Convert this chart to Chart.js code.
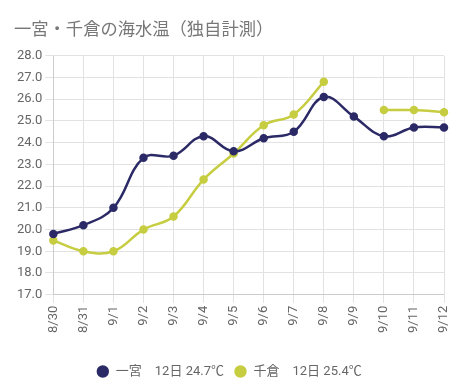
<!DOCTYPE html>
<html>
<head>
<meta charset="utf-8">
<script src="https://cdn.jsdelivr.net/npm/chart.js@4"></script>
<style>
  html, body { margin: 0; padding: 0; background: #fff; }
  #wrap { width: 471px; height: 390px; position: relative; }
</style>
</head>
<body>
<div id="wrap"><canvas id="seaChart"></canvas></div>
<script>
const days = ['8/30', '8/31', '9/1', '9/2', '9/3', '9/4', '9/5', '9/6', '9/7', '9/8', '9/9', '9/10', '9/11', '9/12'];
const ichinomiya = [19.8, 20.2, 21.0, 23.3, 23.4, 24.3, 23.6, 24.2, 24.5, 26.1, 25.2, 24.3, 24.7, 24.7];
const chikura = [19.5, 19.0, 19.0, 20.0, 20.6, 22.3, 23.5, 24.8, 25.3, 26.8, null, 25.5, 25.5, 25.4];
const seriesNames = ['一宮　12日 24.7℃', '千倉　12日 25.4℃'];

const fontFamily = "Roboto, 'Noto Sans CJK JP', sans-serif";

new Chart(document.getElementById('seaChart'), {
    type: 'line',
    data: {
        labels: days,
        datasets: [{
            label: seriesNames[0],
            data: ichinomiya,
            borderColor: '#2b2a66',
            backgroundColor: '#2b2a66',
            borderWidth: 2.5,
            pointRadius: 3,
            tension: 0.4,
            fill: false
        }, {
            label: seriesNames[1],
            data: chikura,
            borderColor: '#c6cd40',
            backgroundColor: '#c6cd40',
            borderWidth: 2.5,
            pointRadius: 3,
            tension: 0.4,
            fill: false
        }]
    },
    options: {
        responsive: true,
        maintainAspectRatio: false,
        animation: false,
        layout: { padding: { left: 14, right: 27, top: 14, bottom: 2 } },
        plugins: {
            title: {
                display: true,
                text: '一宮・千倉の海水温（独自計測）',
                align: 'start',
                color: '#777',
                font: { family: fontFamily, size: 17.3, weight: 'normal' },
                padding: { top: 6, bottom: 15 }
            },
            legend: {
                position: 'bottom',
                labels: {
                    usePointStyle: true,
                    pointStyle: 'circle',
                    boxWidth: 13,
                    boxHeight: 7,
                    color: '#666',
                    font: { family: fontFamily, size: 13 },
                    padding: 10
                }
            }
        },
        scales: {
            x: {
                grid: { color: '#e2e2e2' },
                afterFit: scale => { scale.height += 19; },
                ticks: {
                    color: '#666',
                    minRotation: 90,
                    maxRotation: 90,
                    font: { family: fontFamily, size: 13 }
                }
            },
            y: {
                min: 17,
                max: 28,
                grid: { color: '#e2e2e2' },
                ticks: {
                    stepSize: 1,
                    color: '#666',
                    font: { family: fontFamily, size: 13 },
                    callback: v => v.toFixed(1)
                }
            }
        }
    }
});
</script>
</body>
</html>
